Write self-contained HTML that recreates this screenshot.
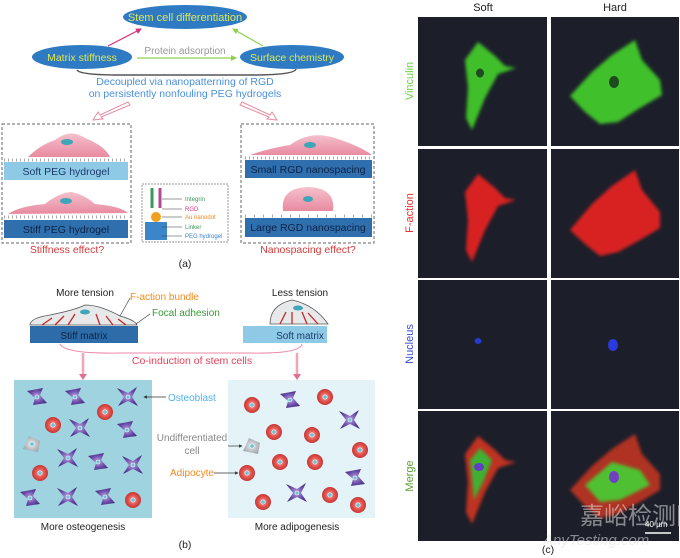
<!DOCTYPE html>
<html><head><meta charset="utf-8"><style>
html,body{margin:0;padding:0;background:#fff}
svg{display:block}
text{font-family:"Liberation Sans","Noto Sans CJK SC",sans-serif}
</style></head><body>
<svg width="680" height="558" viewBox="0 0 680 558" xmlns="http://www.w3.org/2000/svg">
<defs>
<radialGradient id="rc" cx="50%" cy="50%" r="50%"><stop offset="0" stop-color="#f3a3a0"/><stop offset="0.6" stop-color="#e2524e"/><stop offset="1" stop-color="#c73634"/></radialGradient>
<radialGradient id="pc" cx="50%" cy="50%" r="60%"><stop offset="0" stop-color="#b9a4dd"/><stop offset="0.6" stop-color="#6a4aa8"/><stop offset="1" stop-color="#3e2a78"/></radialGradient>
<radialGradient id="gc" cx="50%" cy="50%" r="60%"><stop offset="0" stop-color="#e6e8ea"/><stop offset="1" stop-color="#9aa0a6"/></radialGradient>
<linearGradient id="pink" x1="0" y1="0" x2="0" y2="1"><stop offset="0" stop-color="#f5c0cc"/><stop offset="1" stop-color="#e88aa0"/></linearGradient>
<g id="red"><circle r="8" fill="url(#rc)"/><circle r="2.2" fill="#6cc3d5" stroke="#fff" stroke-width="0.6"/></g>
<g id="pur"><path d="M-10,-6 L6,-9 L3,-2 L10,6 L-4,8 L-2,1 Z" fill="url(#pc)"/><circle r="2" fill="#6cc3d5" stroke="#fff" stroke-width="0.6"/></g>
<g id="star"><path d="M-11,-9 L0,-4 L9,-10 L4,0 L10,9 L0,4 L-10,9 L-4,0 Z" fill="url(#pc)"/><circle r="2" fill="#6cc3d5" stroke="#fff" stroke-width="0.6"/></g>
<g id="gry"><path d="M-9,5 L-3,-8 L8,-3 L6,8 Z" fill="url(#gc)"/><circle r="2.2" fill="#6cc3d5" stroke="#fff" stroke-width="0.6"/></g>
<marker id="ah" viewBox="0 0 6 6" refX="5" refY="3" markerWidth="5" markerHeight="5" orient="auto"><path d="M0,0L6,3L0,6Z" fill="context-stroke"/></marker>
<filter id="bl"><feGaussianBlur stdDeviation="1.5"/></filter>
</defs>

<!-- (a) -->
<ellipse cx="185" cy="17" rx="62" ry="12" fill="#2e7bc4"/>
<text x="185" y="21" font-size="11" fill="#dfe650" text-anchor="middle">Stem cell differentiation</text>
<ellipse cx="82" cy="57" rx="50" ry="12" fill="#2e7bc4"/>
<text x="82" y="61" font-size="10.5" fill="#dfe650" text-anchor="middle">Matrix stiffness</text>
<ellipse cx="292" cy="57" rx="52" ry="12" fill="#2e7bc4"/>
<text x="292" y="61" font-size="10.5" fill="#dfe650" text-anchor="middle">Surface chemistry</text>
<text x="185" y="54" font-size="10" fill="#999" text-anchor="middle">Protein adsorption</text>
<line x1="137" y1="58" x2="236" y2="58" stroke="#8fd14f" stroke-width="1.2" marker-end="url(#ah)"/>
<line x1="108" y1="46" x2="141" y2="29" stroke="#d6337f" stroke-width="1.2" marker-end="url(#ah)"/>
<line x1="263" y1="46" x2="233" y2="29" stroke="#8fd14f" stroke-width="1.2" marker-end="url(#ah)"/>
<path d="M77,70 Q80,75 120,75 L250,75 Q295,75 296,69" fill="none" stroke="#555" stroke-width="1.5"/>
<text x="185" y="85" font-size="10.5" fill="#4a90d9" text-anchor="middle">Decoupled via nanopatterning of RGD</text>
<text x="185" y="97" font-size="10.5" fill="#4a90d9" text-anchor="middle">on persistently nonfouling PEG hydrogels</text>
<path d="M128,102 L100,115 L98,112 L93,120 L103,119 L101,117 L130,105 Z" fill="#fff" stroke="#e88aa0"/>
<path d="M242,102 L270,115 L272,112 L277,120 L267,119 L269,117 L240,105 Z" fill="#fff" stroke="#e88aa0"/>

<rect x="2" y="124" width="129" height="119" fill="none" stroke="#666" stroke-dasharray="3,2"/>
<rect x="241" y="124" width="133" height="119" fill="none" stroke="#666" stroke-dasharray="3,2"/>
<path d="M28,157 Q40,145 55,140 Q70,128 85,138 Q105,146 110,157 Z" fill="url(#pink)"/>
<ellipse cx="67" cy="142" rx="6" ry="3" fill="#3fa6b8"/>
<line x1="4" y1="160" x2="128" y2="160" stroke="#aaa" stroke-dasharray="1,3" stroke-width="3"/>
<rect x="4" y="162" width="124" height="18" fill="#8ecae6"/>
<text x="66" y="175" font-size="10.5" fill="#1a3a6a" text-anchor="middle">Soft PEG hydrogel</text>
<path d="M8,214 Q20,206 45,204 Q60,192 72,192 Q85,195 95,204 Q120,206 128,213 Z" fill="url(#pink)"/>
<ellipse cx="66" cy="201" rx="6" ry="3" fill="#3fa6b8"/>
<line x1="4" y1="217" x2="128" y2="217" stroke="#aaa" stroke-dasharray="1,3" stroke-width="3"/>
<rect x="4" y="220" width="124" height="18" fill="#2f6fae"/>
<text x="66" y="233" font-size="10.5" fill="#0c2346" text-anchor="middle">Stiff PEG hydrogel</text>
<rect x="142" y="184" width="86" height="58" fill="#fff" stroke="#999" stroke-dasharray="2,1"/>
<rect x="145" y="222" width="22" height="18" fill="#3a86c8"/>
<circle cx="156" cy="217" r="5" fill="#f0a020"/>
<line x1="152" y1="188" x2="152" y2="208" stroke="#3a9a5a" stroke-width="3"/>
<line x1="160" y1="188" x2="160" y2="208" stroke="#b04a90" stroke-width="3"/>
<g font-size="6">
<text x="185" y="201" fill="#3a9a5a">Integrin</text>
<text x="185" y="211" fill="#d6337f">RGD</text>
<text x="185" y="219" fill="#f08a20">Au nanodot</text>
<text x="185" y="229" fill="#3a9a5a">Linker</text>
<text x="185" y="238" fill="#3a86c8">PEG hydrogel</text>
</g>
<g stroke="#333" stroke-width="0.6"><line x1="162" y1="199" x2="182" y2="199"/><line x1="162" y1="209" x2="182" y2="209"/><line x1="162" y1="217" x2="182" y2="217"/><line x1="162" y1="227" x2="182" y2="227"/><line x1="162" y1="236" x2="182" y2="236"/></g>
<path d="M250,155 Q270,148 290,145 Q310,130 335,138 Q360,146 372,155 Z" fill="url(#pink)"/>
<ellipse cx="310" cy="145" rx="6" ry="3" fill="#3fa6b8"/>
<line x1="245" y1="158" x2="372" y2="158" stroke="#aaa" stroke-dasharray="1,3" stroke-width="3"/>
<rect x="245" y="160" width="127" height="18" fill="#2f6fae"/>
<text x="308" y="173" font-size="10.5" fill="#0c2346" text-anchor="middle">Small RGD nanospacing</text>
<path d="M283,211 Q280,188 308,187 Q336,188 333,211 Z" fill="url(#pink)"/>
<ellipse cx="308" cy="199" rx="5" ry="3" fill="#3fa6b8"/>
<line x1="245" y1="216" x2="372" y2="216" stroke="#aaa" stroke-dasharray="1,8" stroke-width="3"/>
<rect x="245" y="218" width="127" height="19" fill="#2f6fae"/>
<text x="308" y="231" font-size="10.5" fill="#0c2346" text-anchor="middle">Large RGD nanospacing</text>
<text x="67" y="253" font-size="10.5" fill="#d63a3a" text-anchor="middle">Stiffness effect?</text>
<text x="308" y="253" font-size="10.5" fill="#d63a3a" text-anchor="middle">Nanospacing effect?</text>
<text x="185" y="267" font-size="10.5" fill="#222" text-anchor="middle">(a)</text>

<!-- (b) -->
<text x="85" y="296" font-size="10" fill="#222" text-anchor="middle">More tension</text>
<text x="300" y="296" font-size="10" fill="#222" text-anchor="middle">Less tension</text>
<path d="M30,325 Q30,318 50,315 Q75,310 85,305 Q100,305 120,316 Q135,320 137,325 Z" fill="#e6e8ea" stroke="#555" stroke-width="0.8"/>
<ellipse cx="85" cy="312" rx="5" ry="2.5" fill="#3fa6b8"/>
<g stroke="#c62828" stroke-width="1.3"><line x1="42" y1="325" x2="52" y2="318"/><line x1="55" y1="325" x2="64" y2="316"/><line x1="68" y1="325" x2="75" y2="314"/><line x1="100" y1="325" x2="96" y2="314"/><line x1="113" y1="325" x2="106" y2="316"/><line x1="126" y1="325" x2="118" y2="319"/></g>
<rect x="30" y="326" width="108" height="17" fill="#2d6ca8"/>
<text x="84" y="339" font-size="10" fill="#0c2346" text-anchor="middle">Stiff matrix</text>
<text x="130" y="300" font-size="10" fill="#f08a20">F-action bundle</text>
<text x="152" y="316" font-size="10" fill="#3a9a3a">Focal adhesion</text>
<line x1="130" y1="298" x2="120" y2="316" stroke="#333" stroke-width="0.6"/>
<line x1="150" y1="314" x2="136" y2="324" stroke="#333" stroke-width="0.6"/>
<path d="M270,324 Q270,305 292,300 Q315,305 328,324 Z" fill="#e6e8ea" stroke="#555" stroke-width="0.8"/>
<ellipse cx="298" cy="308" rx="5" ry="2.5" fill="#3fa6b8"/>
<g stroke="#c62828" stroke-width="1.3"><line x1="280" y1="324" x2="286" y2="312"/><line x1="292" y1="324" x2="292" y2="312"/><line x1="307" y1="324" x2="302" y2="312"/><line x1="318" y1="324" x2="308" y2="313"/></g>
<rect x="243" y="326" width="84" height="17" fill="#8ecae6"/>
<text x="300" y="339" font-size="10" fill="#1a3a6a" text-anchor="middle">Soft matrix</text>
<path d="M60,344 Q65,354 120,353 L250,353 Q300,354 302,344" fill="none" stroke="#ec8aa8" stroke-width="1"/>
<text x="192" y="364" font-size="10.5" fill="#e8405a" text-anchor="middle">Co-induction of stem cells</text>
<line x1="83" y1="353" x2="83" y2="377" stroke="#f2a4b8" stroke-width="2.5"/><path d="M79,374L83,380L87,374Z" fill="#e07090"/>
<line x1="297" y1="353" x2="297" y2="377" stroke="#f2a4b8" stroke-width="2.5"/><path d="M293,374L297,380L301,374Z" fill="#e07090"/>
<rect x="14" y="380" width="138" height="138" fill="#9ed3df"/>
<rect x="228" y="380" width="147" height="138" fill="#e3f3f8"/>
<use href="#pur" x="37" y="397"/><use href="#pur" x="75" y="397"/><use href="#star" x="128" y="397"/>
<use href="#red" x="105" y="412"/><use href="#red" x="53" y="425"/><use href="#star" x="80" y="428"/><use href="#pur" x="127" y="430"/>
<use href="#gry" x="32" y="444"/><use href="#star" x="68" y="458"/><use href="#pur" x="98" y="462"/><use href="#star" x="133" y="465"/>
<use href="#red" x="40" y="473"/><use href="#pur" x="30" y="498"/><use href="#star" x="68" y="497"/><use href="#pur" x="105" y="497"/><use href="#red" x="133" y="500"/>
<use href="#red" x="252" y="405"/><use href="#red" x="325" y="397"/><use href="#pur" x="290" y="400"/>
<use href="#red" x="274" y="432"/><use href="#red" x="312" y="435"/><use href="#gry" x="252" y="446"/>
<use href="#red" x="280" y="462"/><use href="#red" x="315" y="462"/><use href="#red" x="247" y="473"/>
<use href="#star" x="297" y="493"/><use href="#red" x="263" y="502"/><use href="#red" x="330" y="495"/>
<use href="#star" x="350" y="420"/><use href="#red" x="360" y="450"/><use href="#pur" x="355" y="478"/><use href="#red" x="358" y="505"/>
<text x="168" y="401" font-size="10" fill="#4fb3e8">Osteoblast</text>
<line x1="166" y1="397" x2="144" y2="397" stroke="#333" stroke-width="0.7" marker-end="url(#ah)"/>
<text x="192" y="441" font-size="10" fill="#888" text-anchor="middle">Undifferentiated</text>
<text x="192" y="454" font-size="10" fill="#888" text-anchor="middle">cell</text>
<line x1="228" y1="446" x2="242" y2="446" stroke="#333" stroke-width="0.7" marker-end="url(#ah)"/>
<text x="170" y="476" font-size="10" fill="#f08a20">Adipocyte</text>
<line x1="214" y1="473" x2="238" y2="473" stroke="#333" stroke-width="0.7" marker-end="url(#ah)"/>
<text x="83" y="530" font-size="10" fill="#222" text-anchor="middle">More osteogenesis</text>
<text x="297" y="530" font-size="10" fill="#222" text-anchor="middle">More adipogenesis</text>
<text x="185" y="548" font-size="10.5" fill="#222" text-anchor="middle">(b)</text>

<!-- (c) -->
<text x="483" y="11" font-size="11" fill="#222" text-anchor="middle">Soft</text>
<text x="615" y="11" font-size="11" fill="#222" text-anchor="middle">Hard</text>
<g fill="#1c1f2a">
<rect x="418" y="17" width="129" height="129"/><rect x="551" y="17" width="128" height="129"/>
<rect x="418" y="149" width="129" height="129"/><rect x="551" y="149" width="128" height="129"/>
<rect x="418" y="280" width="129" height="129"/><rect x="551" y="280" width="128" height="129"/>
<rect x="418" y="411" width="129" height="130"/><rect x="551" y="411" width="128" height="130"/>
</g>
<text transform="translate(413,81) rotate(-90)" font-size="11" fill="#6bd24a" text-anchor="middle">Vinculin</text>
<text transform="translate(413,213) rotate(-90)" font-size="11" fill="#e83030" text-anchor="middle">F-action</text>
<text transform="translate(413,344) rotate(-90)" font-size="11" fill="#3a4ad0" text-anchor="middle">Nucleus</text>
<text transform="translate(413,476) rotate(-90)" font-size="11" fill="#5aa030" text-anchor="middle">Merge</text>
<!-- soft cells -->
<path d="M465,60 L478,42 L495,56 L505,66 L516,68 L498,74 L485,98 L472,130 L466,118 L468,88 Z" fill="#3fbf2a" filter="url(#bl)"/>
<ellipse cx="480" cy="73" rx="4" ry="4.5" fill="#1e4a20"/>
<path d="M465,192 L478,174 L495,188 L505,198 L516,200 L498,206 L485,230 L472,262 L466,250 L468,220 Z" fill="#d82020" filter="url(#bl)"/>
<ellipse cx="478" cy="341" rx="3.5" ry="3" fill="#2a3ac8"/>
<path d="M465,454 L478,436 L495,450 L505,460 L516,462 L498,468 L485,492 L472,524 L466,512 L468,482 Z" fill="#c03020" filter="url(#bl)"/>
<path d="M470,460 L480,448 L492,460 L484,480 L474,500 Z" fill="#40b030" filter="url(#bl)"/>
<ellipse cx="479" cy="467" rx="5" ry="4" fill="#6040c0"/>
<!-- hard cells -->
<path d="M570,96 L592,72 L612,55 L635,40 L642,60 L660,80 L662,95 L640,108 L618,122 L600,124 L585,112 Z" fill="#40c02a" filter="url(#bl)"/>
<ellipse cx="614" cy="82" rx="5" ry="6" fill="#1e4a20"/>
<path d="M570,230 L592,204 L612,186 L635,170 L642,190 L660,212 L660,228 L640,240 L618,252 L600,256 L585,244 Z" fill="#d82020" filter="url(#bl)"/>
<ellipse cx="613" cy="345" rx="5" ry="6" fill="#2a3ae0"/>
<path d="M570,490 L592,466 L612,449 L635,434 L642,454 L660,474 L660,490 L640,502 L618,514 L600,518 L585,506 Z" fill="#b03020" filter="url(#bl)"/>
<path d="M585,485 L612,462 L640,470 L650,485 L620,500 L600,502 Z" fill="#50c030" filter="url(#bl)"/>
<ellipse cx="614" cy="477" rx="5" ry="6" fill="#7040c0"/>
<!-- watermark -->
<text x="580" y="524" font-size="24" fill="#e0e0e0" opacity="0.55" font-family="Noto Sans CJK SC,sans-serif">嘉峪检测网</text>
<text x="543" y="545" font-size="15" font-style="italic" fill="#e0e0e0" opacity="0.55">AnyTesting.com</text>
<text x="645" y="527" font-size="8" fill="#fff">40 µm</text>
<line x1="645" y1="533" x2="671" y2="533" stroke="#fff" stroke-width="1.5"/>
<text x="548" y="553" font-size="10.5" fill="#222" text-anchor="middle">(c)</text>
</svg>
</body></html>
